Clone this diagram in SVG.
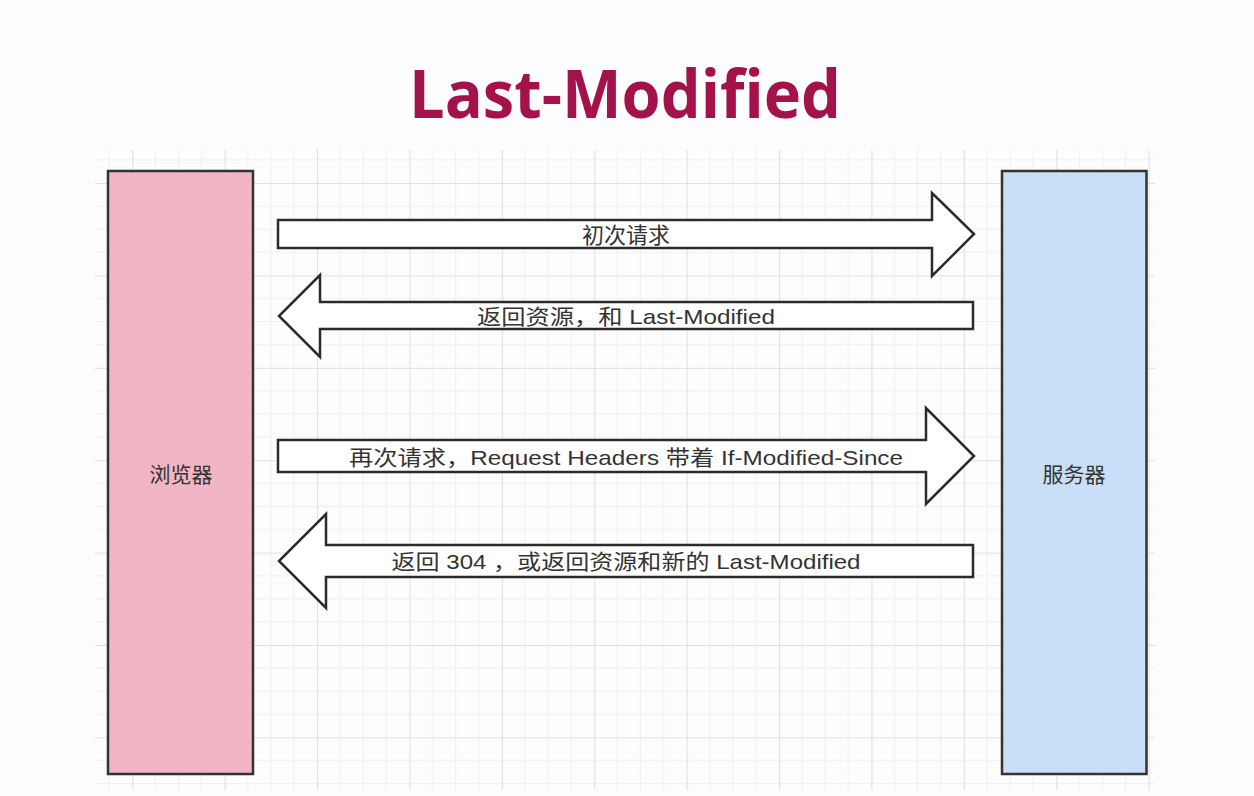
<svg xmlns="http://www.w3.org/2000/svg" width="1254" height="796" viewBox="0 0 1254 796">
<style>
.node rect{stroke:#333;stroke-width:2.5}
.arrow{fill:#fff;stroke:#2b2b2b;stroke-width:2.5;stroke-linejoin:miter}
.lbl{font-family:"Liberation Sans","Noto Sans CJK SC",sans-serif;font-size:21px;fill:#333;text-anchor:middle;dominant-baseline:central}
.title{font-family:"Open Sans","Liberation Sans",sans-serif;font-weight:bold;font-size:66px;fill:#a3124a;text-anchor:middle}
</style>
<defs>
<pattern id="grid" patternUnits="userSpaceOnUse" x="317" y="183" width="92.4" height="92.4">
<path d="M23.1 0V92.4M46.2 0V92.4M69.3 0V92.4M0 23.1H92.4M0 46.2H92.4M0 69.3H92.4" stroke="#efefef" stroke-width="1" fill="none"/>
<path d="M0.5 0V92.4M0 0.5H92.4" stroke="#e0e0e0" stroke-width="1.2" fill="none"/>
</pattern>
</defs>
<rect width="1254" height="796" fill="#fdfdfd"/>
<rect x="95" y="150" width="1060" height="640" fill="url(#grid)"/>
<text class="title" x="625" y="118" textLength="432" lengthAdjust="spacingAndGlyphs">Last-Modified</text>
<g id="browser" class="node">
<rect x="108" y="171" width="145" height="603" fill="#f2b5c5"/>
<text class="lbl" x="181" y="474">浏览器</text>
</g>
<g id="server" class="node">
<rect x="1002" y="171" width="144.5" height="603" fill="#c9dff7"/>
<text class="lbl" x="1074" y="474">服务器</text>
</g>
<g id="connectors">
<g id="arrow1">
<path class="arrow" d="M278 220H932V193L974 234L932 276V248H278Z"/>
<text class="lbl" x="626" y="235" style="font-size:22px">初次请求</text>
</g>
<g id="arrow2">
<path class="arrow" d="M973 302H320V275L279 316L320 357V329H973Z"/>
<text class="lbl" x="626" y="316" textLength="298" lengthAdjust="spacingAndGlyphs">返回资源，和 Last-Modified</text>
</g>
<g id="arrow3">
<path class="arrow" d="M278 440H926V408L974 456L926 504V472H278Z"/>
<text class="lbl" x="626" y="457" textLength="554" lengthAdjust="spacingAndGlyphs">再次请求，Request Headers 带着 If-Modified-Since</text>
</g>
<g id="arrow4">
<path class="arrow" d="M973 545H326V514L279 561L326 608V577H973Z"/>
<text class="lbl" x="626" y="561" textLength="469" lengthAdjust="spacingAndGlyphs">返回 304 ，或返回资源和新的 Last-Modified</text>
</g>
</g>
</svg>
